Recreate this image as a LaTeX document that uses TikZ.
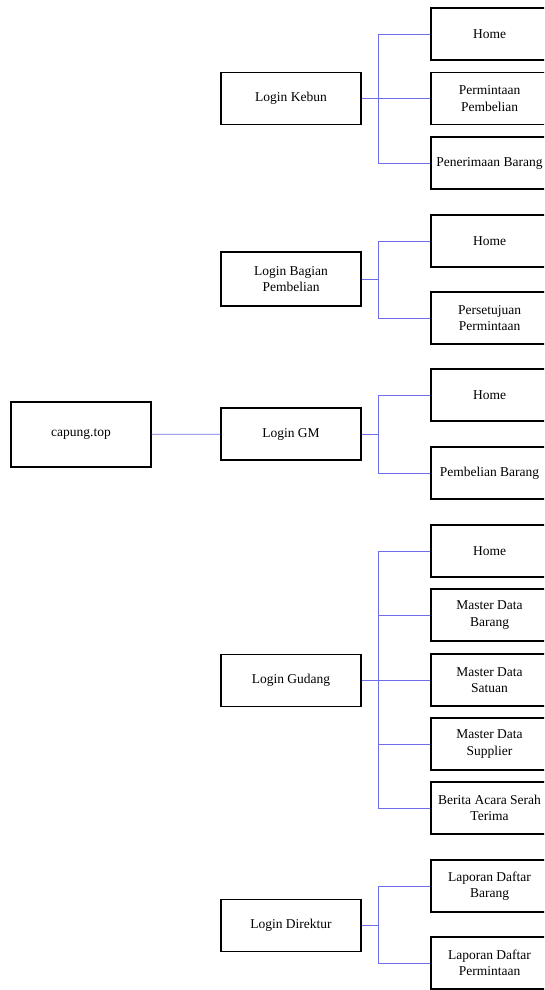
\documentclass[tikz,border=0pt]{standalone}
\usepackage{fontspec}
\setmainfont{Liberation Serif}
\begin{document}
\begin{tikzpicture}[x=1pt,y=-1pt,
  box/.style={rectangle,draw,line width=1.3pt,minimum width=140pt,minimum height=52pt,align=center,inner sep=2pt,font=\fontsize{13.5}{16.5}\selectfont},
  menu/.style={box,minimum width=117pt},
  link/.style={draw={rgb,255:red,110;green,110;blue,235},line width=0.8pt}]
\useasboundingbox (0,0) rectangle (544,990);
\clip (0,0) rectangle (544,990);
\node[box,minimum height=65pt] (top) at (81,434.5) {capung.top};
\node[box] (kebun) at (291,98.5) {Login Kebun};
\node[box,minimum height=54pt] (bagian) at (291,279) {Login Bagian\\Pembelian};
\node[box] (gm) at (291,434) {Login GM};
\node[box] (gudang) at (291,680.5) {Login Gudang};
\node[box] (direktur) at (291,925.5) {Login Direktur};
% kebun
\node[menu] (k1) at (489.5,34) {Home};
\node[menu] (k2) at (489.5,98.5) {Permintaan\\Pembelian};
\node[menu] (k3) at (489.5,163) {Penerimaan Barang};
% bagian pembelian
\node[menu] (b1) at (489.5,241) {Home};
\node[menu] (b2) at (489.5,318) {Persetujuan\\Permintaan};
% gm
\node[menu] (g1) at (489.5,395) {Home};
\node[menu] (g2) at (489.5,473) {Pembelian Barang};
% gudang
\node[menu] (d1) at (489.5,551) {Home};
\node[menu] (d2) at (489.5,615) {Master Data\\Barang};
\node[menu] (d3) at (489.5,680) {Master Data\\Satuan};
\node[menu] (d4) at (489.5,744) {Master Data\\Supplier};
\node[menu] (d5) at (489.5,808) {Berita Acara Serah\\Terima};
% direktur
\node[menu] (r1) at (489.5,886) {Laporan Daftar\\Barang};
\node[menu] (r2) at (489.5,963) {Laporan Daftar\\Permintaan};
\draw[link] (top) -- (gm);
\draw[link] (kebun.east) -- ++(17,0) |- (k1.west);
\draw[link] (kebun.east) -- ++(17,0) |- (k2.west);
\draw[link] (kebun.east) -- ++(17,0) |- (k3.west);
\draw[link] (bagian.east) -- ++(17,0) |- (b1.west);
\draw[link] (bagian.east) -- ++(17,0) |- (b2.west);
\draw[link] (gm.east) -- ++(17,0) |- (g1.west);
\draw[link] (gm.east) -- ++(17,0) |- (g2.west);
\draw[link] (gudang.east) -- ++(17,0) |- (d1.west);
\draw[link] (gudang.east) -- ++(17,0) |- (d2.west);
\draw[link] (gudang.east) -- ++(17,0) |- (d3.west);
\draw[link] (gudang.east) -- ++(17,0) |- (d4.west);
\draw[link] (gudang.east) -- ++(17,0) |- (d5.west);
\draw[link] (direktur.east) -- ++(17,0) |- (r1.west);
\draw[link] (direktur.east) -- ++(17,0) |- (r2.west);
\end{tikzpicture}
\end{document}
